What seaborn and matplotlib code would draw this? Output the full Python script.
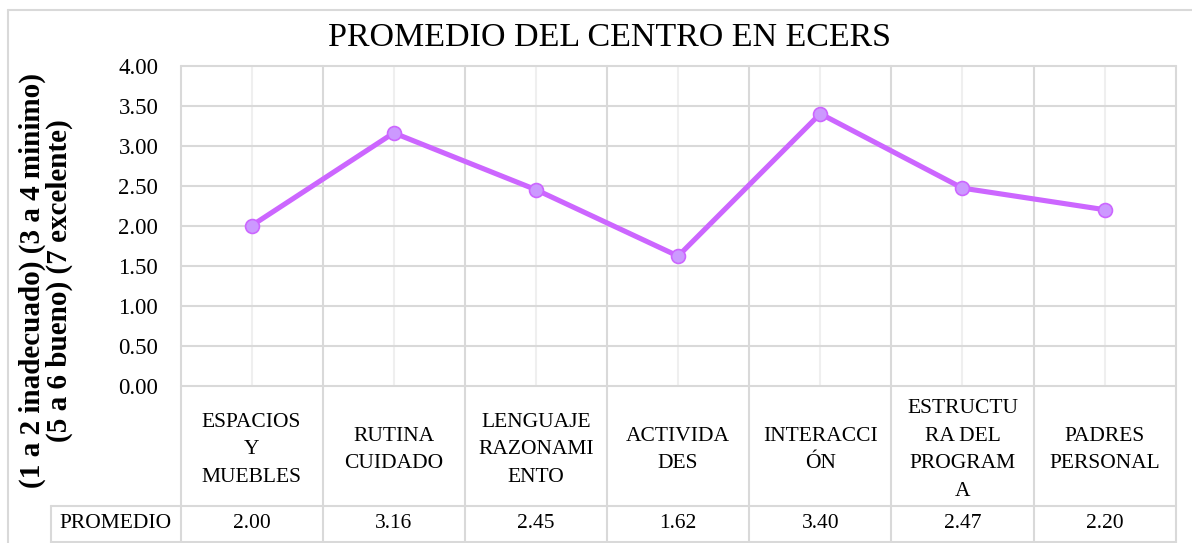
import matplotlib.pyplot as plt
import matplotlib as mpl
from matplotlib.lines import Line2D
import seaborn as sns
import pandas as pd

# chart data
CATEGORIES = ["ESPACIOS\nY\nMUEBLES", "RUTINA\nCUIDADO", "LENGUAJE\nRAZONAMI\nENTO",
              "ACTIVIDA\nDES", "INTERACCI\nÓN", "ESTRUCTU\nRA DEL\nPROGRAM\nA",
              "PADRES\nPERSONAL"]
PROMEDIO = [2.00, 3.16, 2.45, 1.62, 3.40, 2.47, 2.20]
YTICKS = [0.0, 0.5, 1.0, 1.5, 2.0, 2.5, 3.0, 3.5, 4.0]
ROW_LABEL = "PROMEDIO"
TITLE = "PROMEDIO DEL CENTRO EN ECERS"
YLABEL = "(1 a 2 inadecuado) (3 a 4 minimo)\n(5 a 6 bueno) (7 excelente)"

LINE_COLOR = "#cc66ff"
MARKER_FACE = "#cc99ff"
GRID = "#d9d9d9"
GRID_LIGHT = "#efefef"

sns.set_theme(style="white")
plt.rcParams['font.family'] = ['Liberation Serif', 'DejaVu Serif']
plt.rcParams['text.color'] = 'black'
plt.rcParams['ytick.color'] = 'black'

W, H = 1192, 543
fig = plt.figure(figsize=(W / 100, H / 100), dpi=100)
fig.patch.set_facecolor('white')


def fx(px):
    return px / W


def fy(py):
    return 1 - py / H


# plot area in pixel layout of the reference
left, right, top, bottom = 180.5, 1175.7, 65.7, 385.7
ax = fig.add_axes([fx(left), fy(bottom), fx(right) - fx(left), fy(top) - fy(bottom)])
ax_h = bottom - top

n = len(CATEGORIES)
df = pd.DataFrame({"pos": range(n), "valor": PROMEDIO})
sns.lineplot(data=df, x="pos", y="valor", ax=ax, color=LINE_COLOR, linewidth=3.7,
             marker="o", markersize=10, markerfacecolor=MARKER_FACE,
             markeredgecolor=LINE_COLOR, markeredgewidth=1.2, zorder=5)

ax.set_xlim(-0.5, n - 0.5)
ax.set_ylim(0, 4)
ax.set_yticks(YTICKS)
ax.set_yticklabels([f"{v:.2f}" for v in YTICKS])
ax.set_xticks([])
ax.set_xlabel("")
ax.set_ylabel("")
ax.tick_params(axis='y', length=0, pad=16, labelsize=16.5)
for s in ax.spines.values():
    s.set_visible(False)
ax.grid(False)

for y in YTICKS:
    ax.axhline(y, color=GRID, lw=1.5, zorder=1, clip_on=False)
for k in range(n):
    ax.axvline(k, color=GRID_LIGHT, lw=1.5, zorder=0)

# data table below the plot
xt = ax.get_xaxis_transform()
bottom_ax = -(H - bottom) / ax_h
for k in range(n + 1):
    ax.plot([k - 0.5, k - 0.5], [bottom_ax, 1], color=GRID, lw=1.5,
            transform=xt, clip_on=False, zorder=1)
for k, (cat, v) in enumerate(zip(CATEGORIES, PROMEDIO)):
    ax.text(k, -(450 - bottom) / ax_h, cat, transform=xt, ha='center', va='center',
            fontsize=15.5, linespacing=1.6)
    ax.text(k, -(523 - bottom) / ax_h, f"{v:.2f}", transform=xt, ha='center',
            va='center', fontsize=15.5)

fig.add_artist(Line2D([fx(51), fx(right)], [fy(506), fy(506)], color=GRID, lw=1.5))
fig.add_artist(Line2D([fx(51), fx(right)], [fy(542), fy(542)], color=GRID, lw=1.5))
fig.add_artist(Line2D([fx(51), fx(51)], [fy(506), fy(543)], color=GRID, lw=1.5))
fig.text(fx(115), fy(523), ROW_LABEL, ha='center', va='center', fontsize=15.5)

# outer chart border
fig.add_artist(Line2D([fx(8), fx(8)], [fy(10), 0], color=GRID, lw=1.5))
fig.add_artist(Line2D([fx(8), 1], [fy(10), fy(10)], color=GRID, lw=1.5))

fig.text(fx(610), fy(38), TITLE, ha='center', va='center', fontsize=24.5)
fig.text(fx(46), fy(281), YLABEL, rotation=90, ha='center', va='center',
         fontweight='bold', fontsize=21, linespacing=1.0)

fig.savefig("out.png", dpi=100, facecolor='white')
